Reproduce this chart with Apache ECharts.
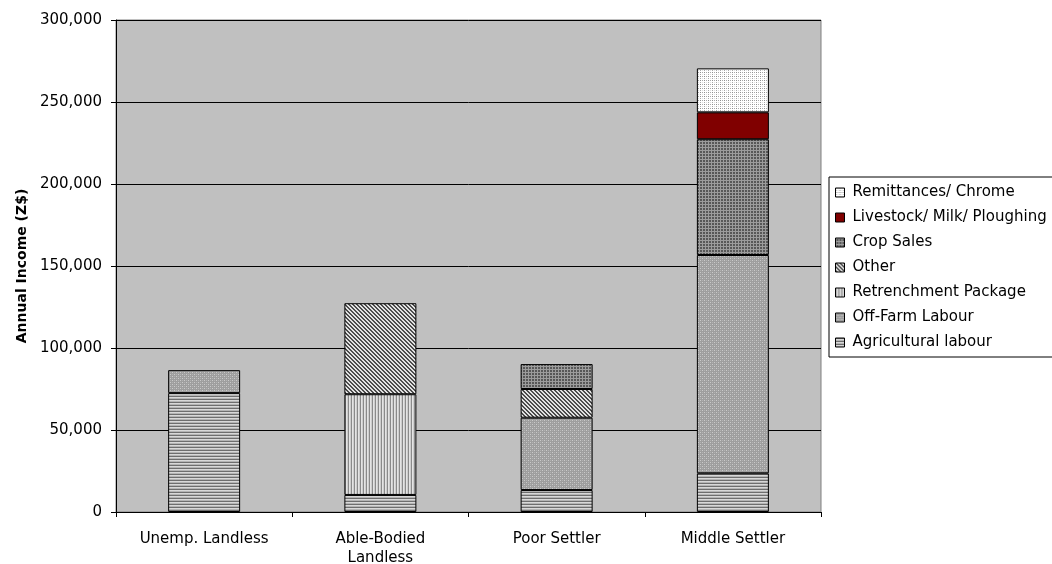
<!DOCTYPE html>
<html>
<head>
<meta charset="utf-8">
<script src="https://cdn.jsdelivr.net/npm/echarts@6/dist/echarts.min.js"></script>
<style>
  html, body { margin: 0; padding: 0; background: #ffffff; }
  #chart { width: 1052px; height: 564px; }
</style>
</head>
<body>
<div id="chart"></div>
<script>
// Household groups along the x axis
const categories = ['Unemp. Landless', 'Able-Bodied Landless', 'Poor Settler', 'Middle Settler'];

// Annual income by source (Z$), stacked bottom to top
const agriculturalLabour = [72500, 10400, 13400, 23600];
const offFarmLabour      = [14000, 0, 44100, 133100];
const retrenchment       = [0, 61400, 0, 0];
const other              = [0, 55500, 17500, 0];
const cropSales          = [0, 0, 15200, 70600];
const livestockMilk      = [0, 0, 0, 16400];
const remittances        = [0, 0, 0, 26800];

const yTicks = [0, 50000, 100000, 150000, 200000, 250000, 300000];

// Small fill patterns drawn on canvases
function pattern(w, h, draw) {
  const c = document.createElement('canvas');
  c.width = w; c.height = h;
  const g = c.getContext('2d');
  draw(g, w, h);
  return { image: c, repeat: 'repeat' };
}
function px(g, x, y, col) { g.fillStyle = col; g.fillRect(x, y, 1, 1); }

const patAgri = pattern(3, 3, (g) => {
  g.fillStyle = '#d8d8d8'; g.fillRect(0, 0, 3, 3);
  g.fillStyle = '#6e6e6e'; g.fillRect(0, 0, 3, 1);
  g.fillStyle = '#b4b4b4'; g.fillRect(0, 2, 3, 1);
});
const patOffFarm = pattern(4, 4, (g) => {
  g.fillStyle = '#9e9e9e'; g.fillRect(0, 0, 4, 4);
  px(g, 0, 0, '#cacaca'); px(g, 2, 2, '#cacaca');
  px(g, 2, 0, '#b2b2b2'); px(g, 0, 2, '#b2b2b2');
});
const patRetrench = pattern(3, 3, (g) => {
  g.fillStyle = '#e4e4e4'; g.fillRect(0, 0, 3, 3);
  g.fillStyle = '#8a8a8a'; g.fillRect(0, 0, 1, 3);
  g.fillStyle = '#cdcdcd'; g.fillRect(2, 0, 1, 3);
});
const patOther = pattern(4, 4, (g) => {
  g.fillStyle = '#e2e2e2'; g.fillRect(0, 0, 4, 4);
  for (let y = 0; y < 4; y++) {
    for (let x = 0; x < 4; x++) {
      const d = ((x - y) % 4 + 4) % 4;
      if (d === 0 || d === 1) px(g, x, y, '#4c4c4c');
    }
  }
});
const patCrop = pattern(3, 3, (g) => {
  g.fillStyle = '#585858'; g.fillRect(0, 0, 3, 3);
  g.fillStyle = '#9c9c9c'; g.fillRect(0, 0, 3, 1); g.fillRect(0, 0, 1, 3);
});
const patRemit = pattern(4, 4, (g) => {
  g.fillStyle = '#ffffff'; g.fillRect(0, 0, 4, 4);
  px(g, 0, 0, '#8e8e8e'); px(g, 0, 2, '#a8a8a8'); px(g, 2, 0, '#a8a8a8');
  px(g, 2, 2, '#e0e0e0');
});

const FONT = '"DejaVu Sans", "Liberation Sans", Arial, sans-serif';

const seriesDefs = [
  { name: 'Agricultural labour', data: agriculturalLabour, color: patAgri },
  { name: 'Off-Farm Labour', data: offFarmLabour, color: patOffFarm },
  { name: 'Retrenchment Package', data: retrenchment, color: patRetrench },
  { name: 'Other', data: other, color: patOther },
  { name: 'Crop Sales', data: cropSales, color: patCrop },
  { name: 'Livestock/ Milk/ Ploughing', data: livestockMilk, color: '#800000' },
  { name: 'Remittances/ Chrome', data: remittances, color: patRemit }
];

// Long category names wrap onto two lines at the last space
function wrapLabel(v) {
  if (v.length <= 16) return v;
  const i = v.lastIndexOf(' ');
  return v.slice(0, i) + '\n' + v.slice(i + 1);
}

const chart = echarts.init(document.getElementById('chart'), null, { renderer: 'canvas' });

chart.setOption({
  backgroundColor: '#ffffff',
  animation: false,
  textStyle: { fontFamily: FONT },
  grid: {
    left: 116, right: 231, top: 20, bottom: 52,
    outerBoundsMode: 'none', containLabel: false,
    show: true, backgroundColor: '#c0c0c0', borderColor: '#808080', borderWidth: 1
  },
  legend: {
    orient: 'vertical',
    left: 829, top: 177,
    padding: [7, 60, 6, 6],
    backgroundColor: '#ffffff',
    borderColor: '#000000', borderWidth: 1, borderRadius: 0,
    icon: 'rect',
    itemWidth: 9, itemHeight: 9, itemGap: 8,
    itemStyle: { borderColor: '#000000', borderWidth: 1 },
    textStyle: { fontFamily: FONT, fontSize: 15, color: '#000000', lineHeight: 17, padding: [0, 0, 0, 3] },
    data: seriesDefs.map(s => s.name).reverse()
  },
  xAxis: {
    type: 'category',
    data: categories,
    axisLine: { lineStyle: { color: '#000000', width: 1 } },
    axisTick: { show: true, length: 5, lineStyle: { color: '#000000' } },
    axisLabel: {
      fontFamily: FONT, fontSize: 15, color: '#000000', margin: 18,
      lineHeight: 19, interval: 0, formatter: wrapLabel
    },
    splitLine: { show: false }
  },
  yAxis: {
    type: 'value',
    min: 0, max: 300000, interval: 50000,
    name: 'Annual Income (Z$)',
    nameLocation: 'middle',
    nameGap: 87,
    nameRotate: 90,
    nameTextStyle: { fontFamily: FONT, fontSize: 14, fontWeight: 'bold', color: '#000000' },
    axisLine: { show: true, lineStyle: { color: '#000000', width: 1 } },
    axisTick: { show: true, length: 5, lineStyle: { color: '#000000' } },
    axisLabel: {
      fontFamily: FONT, fontSize: 15, color: '#000000', margin: 14,
      formatter: (v) => yTicks.includes(v) ? v.toLocaleString('en-US') : ''
    },
    splitLine: { show: true, lineStyle: { color: '#000000', width: 1 } }
  },
  series: seriesDefs.map(s => ({
    name: s.name,
    type: 'bar',
    stack: 'income',
    barWidth: 72,
    data: s.data.map(v => v === 0 ? '-' : v),
    itemStyle: { color: s.color, borderColor: '#000000', borderWidth: 1 },
    emphasis: { disabled: true }
  }))
});
</script>
</body>
</html>
